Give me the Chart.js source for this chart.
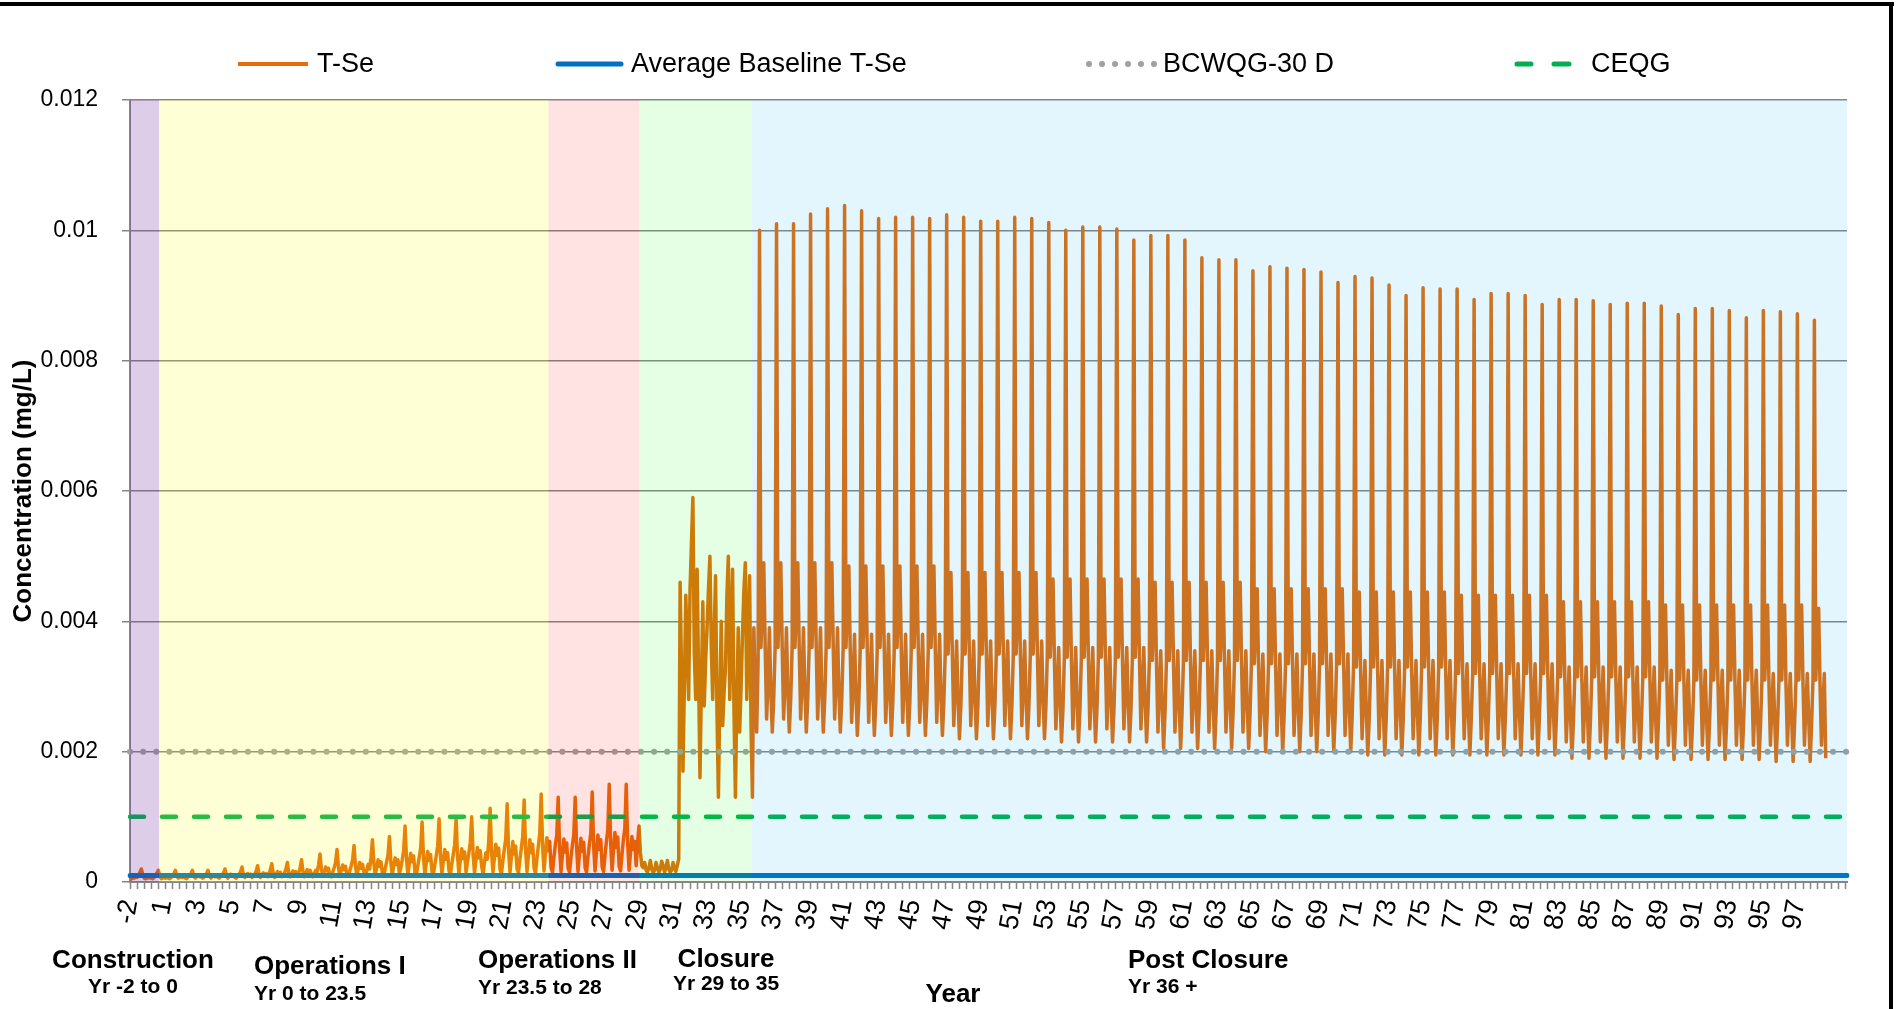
<!DOCTYPE html>
<html>
<head>
<meta charset="utf-8">
<script src="https://cdn.jsdelivr.net/npm/chart.js"></script>
<style>
html,body{margin:0;padding:0;background:#fff;}
canvas{display:block;}
</style>
</head>
<body>
<canvas id="c" width="1896" height="1009"></canvas>
<script>
// ================= DATA =================
// Monthly categories along the "Year" axis
const nCategories = 1212;
const monthsPerLabel = 24;
const monthsPerTickMark = 5;
const yearTickLabels = ['-2','1','3','5','7','9','11','13','15','17','19','21','23','25','27','29','31','33','35','37','39','41','43','45','47','49','51','53','55','57','59','61','63','65','67','69','71','73','75','77','79','81','83','85','87','89','91','93','95','97'];

// T-Se (values in µg/L, i.e. mg/L x 1000), Construction + Operations I/II + early Closure, months 0..387
const tSeOpsUgL = [
0.03,0.05,0.07,0.06,0.08,0.07,0.10,0.15,
0.20,
0.11,0.06,0.05,0.07,0.06,0.08,0.06,0.05,0.07,0.10,0.14,
0.18,
0.09,0.05,0.06,0.08,0.06,0.08,0.06,0.05,0.07,0.09,0.13,
0.18,
0.09,0.06,0.07,0.09,0.07,0.09,0.06,0.05,0.08,0.10,0.13,
0.18,
0.09,0.06,0.08,0.10,0.08,0.09,0.06,0.07,0.10,0.13,
0.18,
0.09,0.06,0.08,0.10,0.08,0.10,0.07,0.06,0.09,0.11,0.14,
0.20,
0.10,0.06,0.09,0.12,0.09,0.11,0.07,0.06,0.10,0.12,0.16,
0.23,
0.11,0.07,0.10,0.13,0.10,0.12,0.07,0.09,0.12,0.17,
0.25,
0.12,0.07,0.11,0.14,0.11,0.13,0.08,0.12,0.19,
0.28,
0.13,0.07,0.12,0.16,0.12,0.15,0.08,0.10,0.14,0.20,
0.30,
0.14,0.08,0.13,0.17,0.13,0.16,0.09,0.14,0.22,
0.34,
0.16,0.08,0.14,0.19,0.15,0.18,0.12,0.08,0.13,0.18,0.15,0.26,
0.43,
0.20,0.09,0.16,0.23,0.17,0.21,0.10,0.08,0.15,0.22,0.30,
0.50,
0.23,0.09,0.18,0.26,0.19,0.24,0.11,0.09,0.17,0.25,0.34,
0.56,
0.25,0.10,0.20,0.30,0.21,0.27,0.15,0.09,0.18,0.27,0.20,0.38,
0.65,
0.29,0.10,0.22,0.34,0.24,0.31,0.13,0.10,0.21,0.31,0.42,
0.70,
0.30,0.11,0.25,0.37,0.27,0.34,0.12,0.22,0.34,0.48,
0.86,
0.36,0.12,0.28,0.44,0.31,0.40,0.15,0.11,0.25,0.38,0.52,
0.92,
0.38,0.12,0.30,0.47,0.33,0.42,0.16,0.12,0.27,0.40,0.55,
0.97,
0.40,0.13,0.32,0.50,0.35,0.45,0.17,0.12,0.28,0.42,0.58,
0.98,
0.40,0.13,0.33,0.51,0.36,0.46,0.15,0.30,0.44,0.60,
1.00,
0.42,0.14,0.34,0.53,0.37,0.48,0.25,0.12,0.30,0.45,0.35,0.62,
1.13,
0.46,0.15,0.37,0.58,0.41,0.52,0.19,0.13,0.33,0.50,0.66,
1.20,
0.48,0.15,0.39,0.62,0.43,0.55,0.20,0.14,0.35,0.52,0.70,
1.26,
0.50,0.16,0.41,0.65,0.45,0.58,0.21,0.14,0.36,0.55,0.74,
1.35,
0.55,0.17,0.44,0.68,0.48,0.62,0.22,0.15,0.38,0.57,0.72,
1.30,
0.52,0.16,0.42,0.66,0.46,0.60,0.21,0.15,0.37,0.56,0.72,
1.30,
0.52,0.16,0.43,0.67,0.47,0.61,0.22,0.15,0.38,0.58,0.75,
1.38,
0.56,0.17,0.46,0.72,0.50,0.65,0.23,0.16,0.40,0.62,0.80,
1.50,
0.60,0.18,0.49,0.76,0.53,0.69,0.24,0.17,0.42,0.65,0.82,
1.50,
0.60,0.18,0.45,0.70,0.50,0.62,0.25,0.60,
0.86,
0.45,0.25,0.22,0.30,0.18,0.15,0.22,0.33,0.20,0.14,0.18,0.30,0.22,0.15,0.20,0.32,0.25,0.15,0.22,0.33,0.20,0.15,0.18,0.30,0.22,0.16,0.25,0.35
];

// T-Se Closure after the jump, months 388..443 (µg/L)
const tSeClosureUgL = [
4.6,3.2,1.7,3.0,4.4,3.6,2.8,4.5,5.2,5.9,3.5,2.8,4.8,3.2,1.6,3.0,4.3,2.7,3.4,3.9,4.5,5.0,3.6,2.8,
3.8,4.7,2.6,1.3,2.8,4.0,2.4,2.9,3.3,4.4,5.0,2.8,3.8,4.8,2.6,1.3,2.8,3.9,2.3,3.0,3.8,4.5,4.9,2.8,
3.8,4.7,2.4,1.3,3.9,3.0,2.3,3.4
];

// T-Se Post Closure: yearly peak (µg/L), one per year
const tSePostPeaksUgL = [
10.0,10.1,10.1,10.25,10.33,10.38,10.3,10.18,10.2,10.2,10.18,10.24,10.2,10.14,10.14,10.2,10.18,10.12,10.0,10.05,
10.05,10.02,9.85,9.92,9.92,9.85,9.58,9.55,9.55,9.38,9.44,9.42,9.4,9.36,9.2,9.29,9.27,9.16,9.0,9.12,
9.1,9.1,8.94,9.03,9.03,9.0,8.86,8.94,8.94,8.92,8.86,8.88,8.88,8.84,8.71,8.8,8.8,8.77,8.66,8.77,
8.75,8.72,8.62
];
// T-Se Post Closure: the monthly values that follow each yearly peak (µg/L)
const tSePostRowsUgL = [
[3.6,4.3,4.9,3.6,2.5,3.1,3.9,2.9,2.3,2.8,3.6],
[3.6,4.3,4.9,3.6,2.5,3.1,3.9,2.9,2.3,2.8,3.6],
[3.6,4.3,4.9,3.6,2.5,3.1,3.9,2.9,2.3,2.8,3.6],
[3.6,4.3,4.9,3.6,2.5,3.1,3.9,2.9,2.3,2.8,3.6],
[3.6,4.3,4.9,3.6,2.5,3.1,3.9,2.9,2.3,2.8,3.6],
[3.6,4.3,4.85,3.55,2.45,3.05,3.8,2.85,2.25,2.75,3.55],
[3.6,4.3,4.85,3.55,2.45,3.05,3.8,2.85,2.25,2.75,3.55],
[3.6,4.3,4.85,3.55,2.45,3.05,3.8,2.85,2.25,2.75,3.55],
[3.6,4.3,4.85,3.55,2.45,3.05,3.8,2.85,2.25,2.75,3.55],
[3.6,4.3,4.85,3.55,2.45,3.05,3.8,2.85,2.25,2.75,3.55],
[3.6,4.3,4.85,3.55,2.45,3.05,3.8,2.85,2.25,2.75,3.55],
[3.5,4.2,4.75,3.5,2.4,3.0,3.7,2.8,2.2,2.7,3.5],
[3.5,4.2,4.75,3.5,2.4,3.0,3.7,2.8,2.2,2.7,3.5],
[3.5,4.2,4.75,3.5,2.4,3.0,3.7,2.8,2.2,2.7,3.5],
[3.5,4.2,4.75,3.5,2.4,3.0,3.7,2.8,2.2,2.7,3.5],
[3.5,4.2,4.75,3.5,2.4,3.0,3.7,2.8,2.2,2.7,3.5],
[3.5,4.2,4.75,3.5,2.4,3.0,3.7,2.8,2.2,2.7,3.5],
[3.45,4.15,4.65,3.4,2.35,2.95,3.6,2.75,2.15,2.65,3.45],
[3.45,4.15,4.65,3.4,2.35,2.95,3.6,2.75,2.15,2.65,3.45],
[3.45,4.15,4.65,3.4,2.35,2.95,3.6,2.75,2.15,2.65,3.45],
[3.45,4.15,4.65,3.4,2.35,2.95,3.6,2.75,2.15,2.65,3.45],
[3.45,4.15,4.65,3.4,2.35,2.95,3.6,2.75,2.15,2.65,3.45],
[3.45,4.15,4.65,3.4,2.35,2.95,3.6,2.75,2.15,2.65,3.45],
[3.4,4.1,4.6,3.35,2.3,2.9,3.55,2.7,2.05,2.6,3.4],
[3.4,4.1,4.6,3.35,2.3,2.9,3.55,2.7,2.05,2.6,3.4],
[3.4,4.1,4.6,3.35,2.3,2.9,3.55,2.7,2.05,2.6,3.4],
[3.4,4.1,4.6,3.35,2.3,2.9,3.55,2.7,2.05,2.6,3.4],
[3.4,4.1,4.6,3.35,2.3,2.9,3.55,2.7,2.05,2.6,3.4],
[3.4,4.1,4.6,3.35,2.3,2.9,3.55,2.7,2.05,2.6,3.4],
[3.35,4.0,4.5,3.3,2.25,2.85,3.5,2.65,2.0,2.55,3.35],
[3.35,4.0,4.5,3.3,2.25,2.85,3.5,2.65,2.0,2.55,3.35],
[3.35,4.0,4.5,3.3,2.25,2.85,3.5,2.65,2.0,2.55,3.35],
[3.35,4.0,4.5,3.3,2.25,2.85,3.5,2.65,2.0,2.55,3.35],
[3.35,4.0,4.5,3.3,2.25,2.85,3.5,2.65,2.0,2.55,3.35],
[3.35,4.0,4.5,3.3,2.25,2.85,3.5,2.65,2.0,2.55,3.35],
[3.3,3.95,4.45,3.2,2.2,2.8,3.4,2.6,1.95,2.5,3.3],
[3.3,3.95,4.45,3.2,2.2,2.8,3.4,2.6,1.95,2.5,3.3],
[3.3,3.95,4.45,3.2,2.2,2.8,3.4,2.6,1.95,2.5,3.3],
[3.3,3.95,4.45,3.2,2.2,2.8,3.4,2.6,1.95,2.5,3.3],
[3.3,3.95,4.45,3.2,2.2,2.8,3.4,2.6,1.95,2.5,3.3],
[3.3,3.95,4.45,3.2,2.2,2.8,3.4,2.6,1.95,2.5,3.3],
[3.2,3.9,4.4,3.15,2.2,2.75,3.35,2.6,1.95,2.5,3.2],
[3.2,3.9,4.4,3.15,2.2,2.75,3.35,2.6,1.95,2.5,3.2],
[3.2,3.9,4.4,3.15,2.2,2.75,3.35,2.6,1.95,2.5,3.2],
[3.2,3.9,4.4,3.15,2.2,2.75,3.35,2.6,1.95,2.5,3.2],
[3.2,3.9,4.4,3.15,2.2,2.75,3.35,2.6,1.95,2.5,3.2],
[3.2,3.9,4.4,3.15,2.2,2.75,3.35,2.6,1.95,2.5,3.2],
[3.15,3.85,4.3,3.1,2.15,2.7,3.3,2.55,1.9,2.45,3.15],
[3.15,3.85,4.3,3.1,2.15,2.7,3.3,2.55,1.9,2.45,3.15],
[3.15,3.85,4.3,3.1,2.15,2.7,3.3,2.55,1.9,2.45,3.15],
[3.15,3.85,4.3,3.1,2.15,2.7,3.3,2.55,1.9,2.45,3.15],
[3.15,3.85,4.3,3.1,2.15,2.7,3.3,2.55,1.9,2.45,3.15],
[3.15,3.85,4.3,3.1,2.15,2.7,3.3,2.55,1.9,2.45,3.15],
[3.1,3.8,4.25,3.05,2.1,2.7,3.25,2.5,1.88,2.4,3.1],
[3.1,3.8,4.25,3.05,2.1,2.7,3.25,2.5,1.88,2.4,3.1],
[3.1,3.8,4.25,3.05,2.1,2.7,3.25,2.5,1.88,2.4,3.1],
[3.1,3.8,4.25,3.05,2.1,2.7,3.25,2.5,1.88,2.4,3.1],
[3.1,3.8,4.25,3.05,2.1,2.7,3.25,2.5,1.88,2.4,3.1],
[3.1,3.8,4.25,3.05,2.1,2.7,3.25,2.5,1.88,2.4,3.1],
[3.1,3.8,4.25,3.0,2.1,2.7,3.2,2.5,1.85,2.4,3.1],
[3.1,3.8,4.25,3.0,2.1,2.7,3.2,2.5,1.85,2.4,3.1],
[3.1,3.8,4.25,3.0,2.1,2.7,3.2,2.5,1.85,2.4,3.1],
[3.1,3.8,4.2,3.0,2.1,2.7,3.2,1.9]
];

// Guideline / reference levels (mg/L)
const baselineTSe = 0.0001;
const bcwqg30d = 0.002;
const ceqg = 0.001;

// Project phases (category-index bounds on the Year axis)
const phaseNames = ['Construction','Operations I','Operations II','Closure','Post Closure'];
const phaseYears = ['Yr -2 to 0','Yr 0 to 23.5','Yr 23.5 to 28','Yr 29 to 35','Yr 36 +'];
const phaseStart = [0, 20.5, 295.1, 359.3, 438.6];
const phaseEnd = [20.5, 295.1, 359.3, 438.6, 1211];

// ================= BUILD =================
const FONT = '"Liberation Sans", Arial, sans-serif';
const labels = [];
for (let i = 0; i < nCategories; i++) {
  const j = i / monthsPerLabel;
  labels.push(i % monthsPerLabel === 0 && j < yearTickLabels.length ? yearTickLabels[j] : '');
}
const tSe = [];
tSeOpsUgL.forEach(v => tSe.push(v / 1000));
tSeClosureUgL.forEach(v => tSe.push(v / 1000));
tSePostPeaksUgL.forEach((p, i) => {
  tSe.push(p / 1000);
  tSePostRowsUgL[i].forEach(v => tSe.push(v / 1000));
});
const constLine = v => labels.map(() => v);

const phaseTint = ['rgba(112,48,160,0.24)','rgba(255,255,0,0.16)','rgba(255,0,0,0.11)','rgba(0,255,0,0.10)','rgba(0,176,240,0.11)'];

const decor = {
  id: 'decor',
  beforeDraw(chart) {
    const c = chart.ctx;
    c.save(); c.fillStyle = '#fff'; c.fillRect(0, 0, chart.width, chart.height); c.restore();
  },
  afterDatasetsDraw(chart) {
    const {ctx, chartArea: a, scales: {x}} = chart;
    ctx.save();
    ctx.beginPath(); ctx.rect(a.left, a.top, a.right - a.left, a.bottom - a.top); ctx.clip();
    phaseStart.forEach((s, i) => {
      const x0 = x.getPixelForValue(s), x1 = x.getPixelForValue(phaseEnd[i]);
      ctx.fillStyle = phaseTint[i];
      ctx.fillRect(x0, a.top, x1 - x0, a.bottom - a.top);
    });
    ctx.restore();
  },
  afterDraw(chart) {
    const ctx = chart.ctx;
    const ds = chart.data.datasets;
    ctx.save();
    // legend
    const ly = 64;
    ctx.font = '27px ' + FONT; ctx.fillStyle = '#000'; ctx.textBaseline = 'middle'; ctx.textAlign = 'left';
    // T-Se
    ctx.strokeStyle = ds[0].borderColor; ctx.lineWidth = 4; ctx.lineCap = 'butt'; ctx.setLineDash([]);
    ctx.beginPath(); ctx.moveTo(238, ly); ctx.lineTo(308, ly); ctx.stroke();
    ctx.fillText(ds[0].label, 317, ly + 1);
    // Average baseline
    ctx.strokeStyle = ds[1].borderColor; ctx.lineWidth = 5; ctx.lineCap = 'round';
    ctx.beginPath(); ctx.moveTo(558, ly); ctx.lineTo(621, ly); ctx.stroke();
    ctx.fillText(ds[1].label, 631, ly + 1);
    // BCWQG dots
    ctx.fillStyle = ds[2].borderColor;
    for (let k = 0; k < 6; k++) { ctx.beginPath(); ctx.arc(1089 + k * 13, ly, 3, 0, Math.PI * 2); ctx.fill(); }
    ctx.fillStyle = '#000';
    ctx.fillText(ds[2].label, 1163, ly + 1);
    // CEQG dashes
    ctx.strokeStyle = ds[3].borderColor; ctx.lineWidth = 5; ctx.lineCap = 'round';
    ctx.beginPath(); ctx.moveTo(1517, ly); ctx.lineTo(1531, ly); ctx.moveTo(1554, ly); ctx.lineTo(1569, ly); ctx.stroke();
    ctx.fillText(ds[3].label, 1591, ly + 1);

    // phase labels under the axis
    ctx.textBaseline = 'alphabetic';
    const big = 'bold 26px ' + FONT, small = 'bold 21px ' + FONT;
    const put = (t, x, y, f, al) => { ctx.font = f; ctx.textAlign = al; ctx.fillText(t, x, y); };
    put(phaseNames[0], 133, 968, big, 'center');  put(phaseYears[0], 133, 993, small, 'center');
    put(phaseNames[1], 254, 974, big, 'left');    put(phaseYears[1], 254, 1000, small, 'left');
    put(phaseNames[2], 478, 968, big, 'left');    put(phaseYears[2], 478, 994, small, 'left');
    put(phaseNames[3], 726, 967, big, 'center');  put(phaseYears[3], 726, 990, small, 'center');
    put(phaseNames[4], 1128, 968, big, 'left');   put(phaseYears[4], 1128, 993, small, 'left');
    put('Year', 953, 1002, big, 'center');

    // outer frame
    ctx.fillStyle = '#000';
    ctx.fillRect(0, 2, 1894, 4);
    ctx.fillRect(1889, 2, 4, 1007);
    ctx.restore();
  }
};

new Chart(document.getElementById('c'), {
  type: 'line',
  data: {
    labels: labels,
    datasets: [
      { label: 'T-Se', data: tSe, borderColor: '#E46C0A', borderWidth: 3.5, pointRadius: 0, tension: 0, borderJoinStyle: 'round', order: 4 },
      { label: 'Average Baseline T-Se', data: constLine(baselineTSe), borderColor: '#0070C0', borderWidth: 5, pointRadius: 0, borderCapStyle: 'round', order: 3 },
      { label: 'BCWQG-30 D', data: constLine(bcwqg30d), borderColor: '#A0A0A0', borderWidth: 6, pointRadius: 0, borderDash: [0.1, 13], borderCapStyle: 'round', order: 2 },
      { label: 'CEQG', data: constLine(ceqg), borderColor: '#00B050', borderWidth: 4.5, pointRadius: 0, borderDash: [14, 18], borderCapStyle: 'round', order: 1 }
    ]
  },
  options: {
    responsive: false,
    devicePixelRatio: 1,
    animation: false,
    events: [],
    layout: { padding: { top: 100, right: 49, bottom: 0, left: 0 } },
    plugins: { legend: { display: false }, tooltip: { enabled: false }, title: { display: false } },
    scales: {
      x: {
        type: 'category',
        offset: false,
        ticks: { autoSkip: false, minRotation: 80, maxRotation: 80, font: { size: 27, family: FONT }, color: '#000', padding: 8 },
        grid: { drawOnChartArea: false, drawTicks: true, tickLength: 7, tickWidth: 1.5,
                tickColor: c => (c.index % monthsPerTickMark === 0 ? '#868686' : 'rgba(0,0,0,0)') },
        border: { color: '#868686', width: 2 },
        afterFit(s) { s.height = 127; }
      },
      y: {
        min: 0, max: 0.012,
        ticks: { stepSize: 0.002, callback: v => String(parseFloat(Number(v).toFixed(3))), font: { size: 23, family: FONT }, color: '#000', padding: 24 },
        grid: { color: '#868686', lineWidth: 1.5, tickLength: 8 },
        border: { color: '#868686', width: 2 },
        title: { display: true, text: 'Concentration (mg/L)', font: { size: 26, weight: 'bold', family: FONT }, color: '#000', padding: { top: 8, bottom: 0 } },
        afterFit(s) { s.width = 130; }
      }
    }
  },
  plugins: [decor]
});
</script>
</body>
</html>
